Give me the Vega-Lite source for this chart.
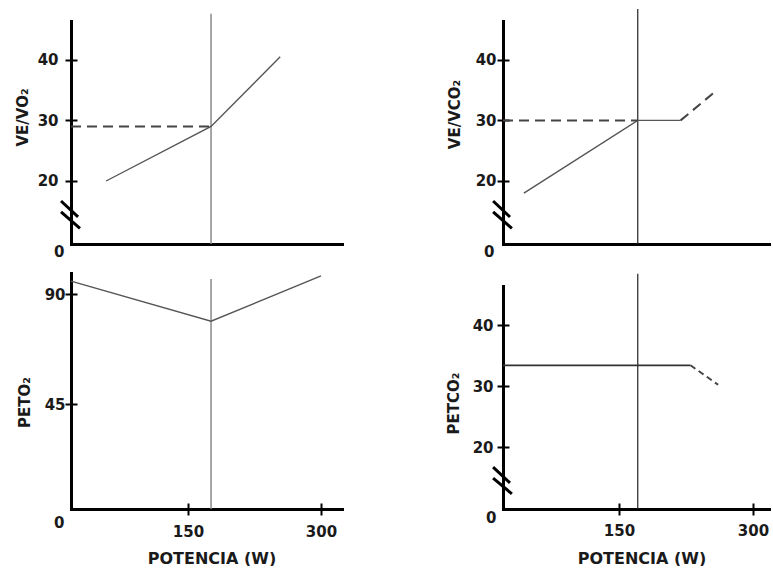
{
  "$schema": "https://vega.github.io/schema/vega-lite/v6.json",
  "background": "white",
  "padding": {"left": 15, "top": 8, "right": 0, "bottom": 0},
  "config": {"view": {"stroke": null}, "font": "DejaVu Sans"},
  "datasets": {
    "tl_rule": [{"w": 176, "v": 0, "v2": 47.6}],
    "tl_solid": [{"w": 45, "v": 20}, {"w": 176, "v": 29}, {"w": 254, "v": 40.5}],
    "tl_dash": [{"w": 0, "v": 29}, {"w": 176, "v": 29}],
    "tr_rule": [{"w": 171, "v": 0, "v2": 48.4}],
    "tr_solid": [{"w": 27, "v": 18}, {"w": 171, "v": 30}, {"w": 219, "v": 30}],
    "tr_dash": [{"s": "a", "w": 0, "v": 30}, {"s": "a", "w": 171, "v": 30}, {"s": "b", "w": 219, "v": 30}, {"s": "b", "w": 258, "v": 34.8}],
    "bl_rule": [{"w": 176, "v": 0, "v2": 96.2}],
    "bl_solid": [{"w": 0, "v": 95.4}, {"w": 176, "v": 79}, {"w": 300, "v": 97.5}],
    "br_rule": [{"w": 171, "v": 0, "v2": 48.4}],
    "br_solid": [{"w": 0, "v": 33.4}, {"w": 230, "v": 33.4}],
    "br_dash": [{"w": 230, "v": 33.4}, {"w": 261, "v": 30.2}],
    "breaks": [{"w": -12.8, "v": 16.7, "w2": 9, "v2": 12.4}, {"w": -12.8, "v": 14.7, "w2": 11.5, "v2": 7.2}]
  },
  "columns": 2,
  "spacing": {"row": 29, "column": 161},
  "bounds": "flush",
  "concat": [
    {
      "width": 271, "height": 223,
      "layer": [
        {
          "data": {"name": "tl_rule"},
          "mark": {"type": "rule", "color": "#8a8a8a", "strokeWidth": 1.5},
          "encoding": {
            "x": {"field": "w", "type": "quantitative", "scale": {"type": "linear", "domain": [0, 150, 300, 324], "range": [0, 117, 250, 271], "nice": false, "zero": false},
                  "axis": {"orient": "bottom", "ticks": false, "labels": false, "title": null, "grid": false, "domainColor": "#000", "domainWidth": 3, "domainCap": "square"}},
            "y": {"field": "v", "type": "quantitative", "scale": {"type": "linear", "domain": [0, 15, 46.4], "range": [223, 190.3, 0], "nice": false, "zero": false},
                  "axis": {"orient": "left", "values": [0, 20, 30, 40], "grid": false, "domainColor": "#000", "domainWidth": 3, "domainCap": "square",
                           "tickColor": "#000", "tickWidth": 2, "tickSize": 6,
                           "tickOpacity": {"condition": {"test": "datum.value === 0", "value": 0}, "value": 1},
                           "labelFont": "DejaVu Sans", "labelFontWeight": "bold", "labelFontSize": 15, "labelColor": "#1a1a1a",
                           "labelPadding": {"condition": {"test": "datum.value === 0", "value": 1}, "value": 7},
                           "labelBaseline": {"condition": {"test": "datum.value === 0", "value": "top"}, "value": "middle"},
                           "labelFlush": false, "labelOverlap": false, "labelBound": false,
                           "title": "VE/VO₂", "titleFont": "DejaVu Sans", "titleFontWeight": "bold", "titleFontSize": 15, "titleColor": "#1a1a1a",
                           "titleX": -44, "titleY": 96, "titleBaseline": "alphabetic"}},
            "y2": {"field": "v2"}
          }
        },
        {
          "data": {"name": "tl_solid"},
          "mark": {"type": "line", "color": "#555555", "strokeWidth": 1.4},
          "encoding": {
            "x": {"field": "w", "type": "quantitative", "scale": {"type": "linear", "domain": [0, 150, 300, 324], "range": [0, 117, 250, 271], "nice": false, "zero": false}, "axis": null},
            "y": {"field": "v", "type": "quantitative", "scale": {"type": "linear", "domain": [0, 15, 46.4], "range": [223, 190.3, 0], "nice": false, "zero": false},
                  "axis": {"orient": "left", "values": [20, 30, 40], "grid": false, "domain": false, "labels": false, "title": null, "tickColor": "#000", "tickWidth": 2, "tickSize": -6}}
          }
        },
        {
          "data": {"name": "tl_dash"},
          "mark": {"type": "line", "color": "#444444", "strokeWidth": 2, "strokeDash": [10, 6]},
          "encoding": {
            "x": {"field": "w", "type": "quantitative", "axis": null},
            "y": {"field": "v", "type": "quantitative", "axis": null}
          }
        },
        {
          "data": {"name": "breaks"},
          "mark": {"type": "rule", "color": "#000", "strokeWidth": 3},
          "encoding": {
            "x": {"field": "w", "type": "quantitative", "axis": null},
            "y": {"field": "v", "type": "quantitative", "axis": null},
            "x2": {"field": "w2"},
            "y2": {"field": "v2"}
          }
        }
      ],
      "resolve": {"axis": {"x": "independent", "y": "independent"}}
    },
    {
      "width": 268, "height": 223,
      "layer": [
        {
          "data": {"name": "tr_rule"},
          "mark": {"type": "rule", "color": "#222222", "strokeWidth": 1.2},
          "encoding": {
            "x": {"field": "w", "type": "quantitative", "scale": {"type": "linear", "domain": [0, 150, 300, 321], "range": [0, 116, 250, 268], "nice": false, "zero": false},
                  "axis": {"orient": "bottom", "ticks": false, "labels": false, "title": null, "grid": false, "domainColor": "#000", "domainWidth": 3, "domainCap": "square"}},
            "y": {"field": "v", "type": "quantitative", "scale": {"type": "linear", "domain": [0, 15, 46.4], "range": [223, 190.3, 0], "nice": false, "zero": false},
                  "axis": {"orient": "left", "values": [0, 20, 30, 40], "grid": false, "domainColor": "#000", "domainWidth": 3, "domainCap": "square",
                           "tickColor": "#000", "tickWidth": 2, "tickSize": 6,
                           "tickOpacity": {"condition": {"test": "datum.value === 0", "value": 0}, "value": 1},
                           "labelFont": "DejaVu Sans", "labelFontWeight": "bold", "labelFontSize": 15, "labelColor": "#1a1a1a",
                           "labelPadding": {"condition": {"test": "datum.value === 0", "value": 3}, "value": 1},
                           "labelBaseline": {"condition": {"test": "datum.value === 0", "value": "top"}, "value": "middle"},
                           "labelFlush": false, "labelOverlap": false, "labelBound": false,
                           "title": "VE/VCO₂", "titleFont": "DejaVu Sans", "titleFontWeight": "bold", "titleFontSize": 15, "titleColor": "#1a1a1a",
                           "titleX": -44, "titleY": 93, "titleBaseline": "alphabetic"}},
            "y2": {"field": "v2"}
          }
        },
        {
          "data": {"name": "tr_solid"},
          "mark": {"type": "line", "color": "#555555", "strokeWidth": 1.4},
          "encoding": {
            "x": {"field": "w", "type": "quantitative", "scale": {"type": "linear", "domain": [0, 150, 300, 321], "range": [0, 116, 250, 268], "nice": false, "zero": false}, "axis": null},
            "y": {"field": "v", "type": "quantitative", "scale": {"type": "linear", "domain": [0, 15, 46.4], "range": [223, 190.3, 0], "nice": false, "zero": false},
                  "axis": {"orient": "left", "values": [20, 30, 40], "grid": false, "domain": false, "labels": false, "title": null, "tickColor": "#000", "tickWidth": 2, "tickSize": -6}}
          }
        },
        {
          "data": {"name": "tr_dash"},
          "mark": {"type": "line", "color": "#444444", "strokeWidth": 2, "strokeDash": [10, 6]},
          "encoding": {
            "x": {"field": "w", "type": "quantitative", "axis": null},
            "y": {"field": "v", "type": "quantitative", "axis": null},
            "detail": {"field": "s", "type": "nominal"}
          }
        },
        {
          "data": {"name": "breaks"},
          "mark": {"type": "rule", "color": "#000", "strokeWidth": 3},
          "encoding": {
            "x": {"field": "w", "type": "quantitative", "axis": null},
            "y": {"field": "v", "type": "quantitative", "axis": null},
            "x2": {"field": "w2"},
            "y2": {"field": "v2"}
          }
        }
      ],
      "resolve": {"axis": {"x": "independent", "y": "independent"}}
    },
    {
      "width": 271, "height": 236,
      "layer": [
        {
          "data": {"name": "bl_rule"},
          "mark": {"type": "rule", "color": "#8a8a8a", "strokeWidth": 1.5},
          "encoding": {
            "x": {"field": "w", "type": "quantitative", "scale": {"type": "linear", "domain": [0, 150, 300, 324], "range": [0, 117, 250, 271], "nice": false, "zero": false},
                  "axis": {"orient": "bottom", "values": [150, 300], "grid": false, "domainColor": "#000", "domainWidth": 3, "domainCap": "square",
                           "tickColor": "#000", "tickWidth": 2, "tickSize": 6,
                           "labelFont": "DejaVu Sans", "labelFontWeight": "bold", "labelFontSize": 15, "labelColor": "#1a1a1a", "labelPadding": 9,
                           "labelFlush": false, "labelOverlap": false, "labelBound": false,
                           "title": "POTENCIA (W)", "titleFont": "DejaVu Sans", "titleFontWeight": "bold", "titleFontSize": 16, "titleColor": "#1a1a1a",
                           "titleX": 140.5, "titleY": 41, "titleBaseline": "top"}},
            "y": {"field": "v", "type": "quantitative", "scale": {"type": "linear", "domain": [0, 45, 90, 98.7], "range": [236, 131.3, 21.3, 0], "nice": false, "zero": false},
                  "axis": {"orient": "left", "values": [0, 45, 90], "grid": false, "domainColor": "#000", "domainWidth": 3, "domainCap": "square",
                           "tickColor": "#000", "tickWidth": 2, "tickSize": 6,
                           "tickOpacity": {"condition": {"test": "datum.value === 0", "value": 0}, "value": 1},
                           "labelFont": "DejaVu Sans", "labelFontWeight": "bold", "labelFontSize": 15, "labelColor": "#1a1a1a",
                           "labelPadding": {"condition": {"test": "datum.value === 0", "value": 1}, "value": 0},
                           "labelBaseline": {"condition": {"test": "datum.value === 0", "value": "top"}, "value": "middle"},
                           "labelOffset": {"condition": {"test": "datum.value === 0", "value": 6}, "value": 0},
                           "labelFlush": false, "labelOverlap": false, "labelBound": false,
                           "title": "PETO₂", "titleFont": "DejaVu Sans", "titleFontWeight": "bold", "titleFontSize": 15, "titleColor": "#1a1a1a",
                           "titleX": -42, "titleY": 129, "titleBaseline": "alphabetic"}},
            "y2": {"field": "v2"}
          }
        },
        {
          "data": {"name": "bl_solid"},
          "mark": {"type": "line", "color": "#555555", "strokeWidth": 1.4},
          "encoding": {
            "x": {"field": "w", "type": "quantitative", "scale": {"type": "linear", "domain": [0, 150, 300, 324], "range": [0, 117, 250, 271], "nice": false, "zero": false},
                  "axis": {"orient": "bottom", "values": [150, 300], "grid": false, "domain": false, "labels": false, "title": null, "tickColor": "#000", "tickWidth": 2, "tickSize": -6}},
            "y": {"field": "v", "type": "quantitative", "scale": {"type": "linear", "domain": [0, 45, 90, 98.7], "range": [236, 131.3, 21.3, 0], "nice": false, "zero": false},
                  "axis": {"orient": "left", "values": [45, 90], "grid": false, "domain": false, "labels": false, "title": null, "tickColor": "#000", "tickWidth": 2, "tickSize": -6}}
          }
        }
      ],
      "resolve": {"axis": {"x": "independent", "y": "independent"}}
    },
    {
      "width": 268, "height": 236,
      "layer": [
        {
          "data": {"name": "br_rule"},
          "mark": {"type": "rule", "color": "#222222", "strokeWidth": 1.2},
          "encoding": {
            "x": {"field": "w", "type": "quantitative", "scale": {"type": "linear", "domain": [0, 150, 300, 321], "range": [0, 116, 250, 268], "nice": false, "zero": false},
                  "axis": {"orient": "bottom", "values": [150, 300], "grid": false, "domainColor": "#000", "domainWidth": 3, "domainCap": "square",
                           "tickColor": "#000", "tickWidth": 2, "tickSize": 6,
                           "labelFont": "DejaVu Sans", "labelFontWeight": "bold", "labelFontSize": 15, "labelColor": "#1a1a1a", "labelPadding": 8,
                           "labelFlush": false, "labelOverlap": false, "labelBound": false,
                           "title": "POTENCIA (W)", "titleFont": "DejaVu Sans", "titleFontWeight": "bold", "titleFontSize": 16, "titleColor": "#1a1a1a",
                           "titleX": 138.5, "titleY": 41, "titleBaseline": "top"}},
            "y": {"field": "v", "type": "quantitative", "scale": {"type": "linear", "domain": [0, 15, 46.4], "range": [236, 204.5, 13], "nice": false, "zero": false},
                  "axis": {"orient": "left", "values": [0, 20, 30, 40], "grid": false, "domainColor": "#000", "domainWidth": 3, "domainCap": "square",
                           "tickColor": "#000", "tickWidth": 2, "tickSize": 6,
                           "tickOpacity": {"condition": {"test": "datum.value === 0", "value": 0}, "value": 1},
                           "labelFont": "DejaVu Sans", "labelFontWeight": "bold", "labelFontSize": 15, "labelColor": "#1a1a1a",
                           "labelPadding": {"condition": {"test": "datum.value === 0", "value": 1}, "value": 4},
                           "labelBaseline": {"condition": {"test": "datum.value === 0", "value": "top"}, "value": "middle"},
                           "labelOffset": {"condition": {"test": "datum.value === 0", "value": 1}, "value": 0},
                           "labelFlush": false, "labelOverlap": false, "labelBound": false,
                           "title": "PETCO₂", "titleFont": "DejaVu Sans", "titleFontWeight": "bold", "titleFontSize": 15, "titleColor": "#1a1a1a",
                           "titleX": -45, "titleY": 130, "titleBaseline": "alphabetic"}},
            "y2": {"field": "v2"}
          }
        },
        {
          "data": {"name": "br_solid"},
          "mark": {"type": "line", "color": "#333333", "strokeWidth": 1.8},
          "encoding": {
            "x": {"field": "w", "type": "quantitative", "scale": {"type": "linear", "domain": [0, 150, 300, 321], "range": [0, 116, 250, 268], "nice": false, "zero": false},
                  "axis": {"orient": "bottom", "values": [150, 300], "grid": false, "domain": false, "labels": false, "title": null, "tickColor": "#000", "tickWidth": 2, "tickSize": -6}},
            "y": {"field": "v", "type": "quantitative", "scale": {"type": "linear", "domain": [0, 15, 46.4], "range": [236, 204.5, 13], "nice": false, "zero": false},
                  "axis": {"orient": "left", "values": [20, 30, 40], "grid": false, "domain": false, "labels": false, "title": null, "tickColor": "#000", "tickWidth": 2, "tickSize": -6}}
          }
        },
        {
          "data": {"name": "br_dash"},
          "mark": {"type": "line", "color": "#444444", "strokeWidth": 2, "strokeDash": [6, 4]},
          "encoding": {
            "x": {"field": "w", "type": "quantitative", "axis": null},
            "y": {"field": "v", "type": "quantitative", "axis": null}
          }
        },
        {
          "data": {"name": "breaks"},
          "mark": {"type": "rule", "color": "#000", "strokeWidth": 3},
          "encoding": {
            "x": {"field": "w", "type": "quantitative", "axis": null},
            "y": {"field": "v", "type": "quantitative", "axis": null},
            "x2": {"field": "w2"},
            "y2": {"field": "v2"}
          }
        }
      ],
      "resolve": {"axis": {"x": "independent", "y": "independent"}}
    }
  ]
}
